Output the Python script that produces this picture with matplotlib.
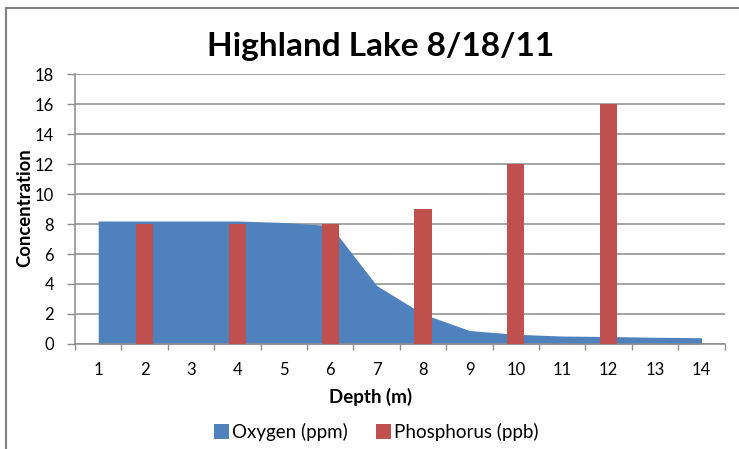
import matplotlib
matplotlib.use("Agg")
import matplotlib.pyplot as plt
from matplotlib.patches import Patch
from matplotlib.lines import Line2D
import numpy as np

plt.rcParams['font.family'] = ['Lato', 'DejaVu Sans']

depths = [1, 2, 3, 4, 5, 6, 7, 8, 9, 10, 11, 12, 13, 14]
oxygen = [8.2, 8.2, 8.2, 8.2, 8.1, 7.9, 3.9, 2.0, 0.9, 0.65, 0.53, 0.5, 0.45, 0.42]
phos_depths = [2, 4, 6, 8, 10, 12]
phosphorus = [8, 8, 8, 9, 12, 16]
yticks = [0, 2, 4, 6, 8, 10, 12, 14, 16, 18]

blue = '#4F81BD'
red = '#C0504D'
grid_c = '#8C8C8C'

fig = plt.figure(figsize=(7.39, 4.49), dpi=100)
ax = fig.add_axes([75/739, 1-344/449, (724.7-75)/739, (344-74)/449])

ax.fill_between(depths, oxygen, 0, color=blue, linewidth=0, zorder=2)
ax.bar(phos_depths, phosphorus, width=0.37, color=red, linewidth=0, zorder=3)

ax.set_xlim(0.5, 14.5)
ax.set_ylim(0, 18)
ax.set_yticks(yticks)
ax.set_yticklabels([str(v) for v in yticks], fontsize=12)
ax.yaxis.grid(True, color=grid_c, linewidth=1.1)
ax.set_axisbelow(True)

ax.set_xticks(np.arange(0.5, 15, 1.0))
ax.set_xticklabels([])
ax.set_xticks(depths, minor=True)
ax.set_xticklabels([str(d) for d in depths], minor=True, fontsize=12)
ax.tick_params(axis='x', which='minor', length=0, pad=13)
ax.tick_params(axis='x', which='major', length=4.5, color=grid_c, width=1)
ax.tick_params(axis='y', length=6, color=grid_c, width=1, pad=9)

for s in ['top', 'right']:
    ax.spines[s].set_visible(False)
for s in ['left', 'bottom']:
    ax.spines[s].set_color(grid_c)
    ax.spines[s].set_linewidth(1.1)

fig.text(371/739, 1-403/449, 'Depth (m)', ha='center', va='baseline', fontsize=13.5, fontweight='bold')
fig.text(30/739, 1-208/449, 'Concentration', ha='center', va='baseline', rotation=90,
         rotation_mode='anchor', fontsize=13.3, fontweight='bold')
fig.text(380.5/739, 1-56/449, 'Highland Lake 8/18/11', ha='center', va='baseline', fontsize=24, fontweight='bold')

handles = [Patch(facecolor=blue, edgecolor='none', label='Oxygen (ppm)'),
           Patch(facecolor=red, edgecolor='none', label='Phosphorus (ppb)')]
fig.legend(handles=handles, loc='center', bbox_to_anchor=(376/739, 1-432/449), ncol=2,
           frameon=False, fontsize=13.5, handlelength=0.8, handleheight=0.8,
           handletextpad=0.15, columnspacing=1.5, borderpad=0, borderaxespad=0)

# outer frame (left and top only, as in screenshot)
fig.add_artist(Line2D([6/739, 6/739], [0, 1-8/449], color='#808080', linewidth=1.5, transform=fig.transFigure))
fig.add_artist(Line2D([6/739, 1], [1-8/449, 1-8/449], color='#808080', linewidth=1.5, transform=fig.transFigure))

fig.savefig('out.png', dpi=100)
